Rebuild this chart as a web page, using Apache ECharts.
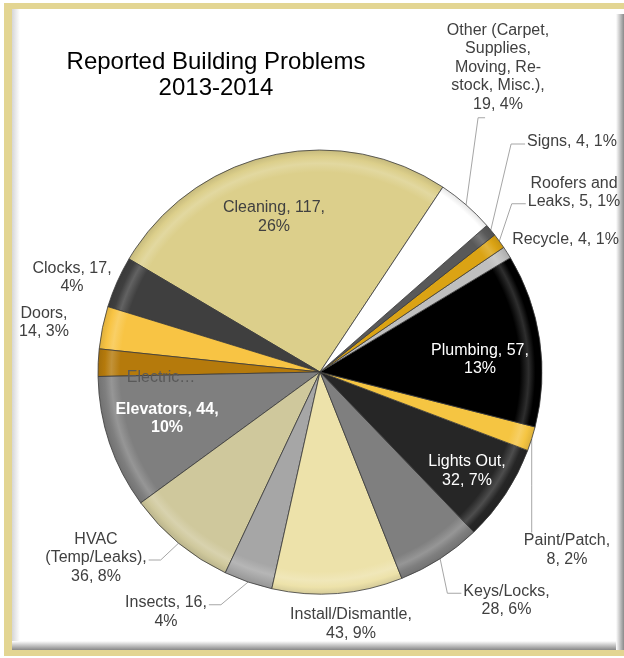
<!DOCTYPE html>
<html><head><meta charset="utf-8">
<script src="https://cdn.jsdelivr.net/npm/echarts@6/dist/echarts.min.js"></script>
<style>html,body{margin:0;padding:0;background:#fff}#c{width:624px;height:658px}</style>
</head><body><div id="c"></div>
<script>
// ---- data ----
const categories = ['Cleaning','Clocks','Doors','Electric','Elevators','HVAC (Temp/Leaks)','Insects','Install/Dismantle','Keys/Locks','Lights Out','Paint/Patch','Plumbing','Recycle','Roofers and Leaks','Signs','Other (Carpet, Supplies, Moving, Re-stock, Misc.)'];
const values = [117,17,14,9,44,36,16,43,28,32,8,57,4,5,4,19];
// label name as wrapped in the picture
const labelNames = ['Cleaning','Clocks','Doors','Electric','Elevators','HVAC\n(Temp/Leaks)','Insects','Install/Dismantle','Keys/Locks','Lights Out','Paint/Patch','Plumbing','Recycle','Roofers and\nLeaks','Signs','Other (Carpet,\nSupplies,\nMoving, Re-\nstock, Misc.)'];
// where the line break falls: 'pct' = before percent, 'val' = before value, 'none', 'trunc'
const labelBreaks = ['pct','pct','val','trunc','pct','val','pct','val','val','val','val','pct','none','none','none','val'];
const titleText = 'Reported Building Problems\n2013-2014';

// ---- style ----
const sliceColors = ['#dccf8b','#3f3f3f','#f8c444','#b57a0c','#7f7f7f','#cfc89c','#a6a6a6','#ede2aa','#7f7f7f','#262626','#f5c542','#000000','#bfbfbf','#dba314','#595959','#ffffff'];
const labelColors = ['#404040','#404040','#404040','#595959','#ffffff','#404040','#404040','#404040','#404040','#ffffff','#404040','#ffffff','#404040','#404040','#404040','#404040'];
// label block centres, leader-line side and the text line the leader meets
const labelPos = [[274,217],[72,277.5],[44,322.5],[161,378],[167,418.5],[96,558],[166,612],[351,624],[506.5,600.5],[467,471],[567,550],[480,359.5],[565.5,240],[574,192.5],[572,142],[498,67.5]];
const leaderSide = [null,null,null,null,null,'right','right',null,'left',null,'top',null,null,'left','left','bottom'];
const leaderLine = [null,null,null,null,null,1,0,null,0,null,null,null,null,1,0,null];

const CX = 320, CY = 372, R = 222;
function mix(c, t, k){
  const p = s => [parseInt(s.substr(1,2),16),parseInt(s.substr(3,2),16),parseInt(s.substr(5,2),16)];
  const a = p(c), b = p(t);
  return 'rgb(' + a.map((v,i)=>Math.round(v+(b[i]-v)*k)).join(',') + ')';
}
function grad(c){
  return {type:'radial', x:CX, y:CY, r:R, global:true, colorStops:[
    {offset:0, color:c},
    {offset:0.9, color:c},
    {offset:0.94, color:mix(c,'#ffffff',0.18)},
    {offset:0.97, color:c},
    {offset:1, color:mix(c,'#000000',0.1)}
  ]};
}
const total = values.reduce((a,b)=>a+b,0);

const data = categories.map((name,i)=>({
  name, value: values[i],
  itemStyle:{color: grad(sliceColors[i])},
  label:{color: labelColors[i], fontWeight: i===4 ? 'bold' : 'normal'},
  labelLine:{show: !!leaderSide[i]}
}));

const chart = echarts.init(document.getElementById('c'));
chart.setOption({
  backgroundColor:'#ffffff',
  animation:false,
  graphic:[
    {type:'rect', z:-10, shape:{x:4,y:3,width:620,height:653}, style:{fill:'#e3d592'}},
    {type:'rect', z:-9, shape:{x:12,y:9,width:612,height:641}, style:{fill:'#ffffff'}},
    {type:'rect', z:-8, shape:{x:12,y:9,width:8,height:641}, style:{fill:{type:'linear',x:0,y:0,x2:1,y2:0,colorStops:[{offset:0,color:'#d6d6d6'},{offset:1,color:'#ffffff'}]}}},
    {type:'rect', z:-8, shape:{x:12,y:641,width:612,height:9}, style:{fill:{type:'linear',x:0,y:0,x2:0,y2:1,colorStops:[{offset:0,color:'#ffffff'},{offset:1,color:'#888888'}]}}},
    {type:'rect', z:-8, shape:{x:616,y:14,width:8,height:636}, style:{fill:{type:'linear',x:0,y:0,x2:1,y2:0,colorStops:[{offset:0,color:'#ffffff'},{offset:1,color:'#8a8a8a'}]}}},
    {type:'text', z:5, x:216, y:75, style:{text:titleText, font:'24px "Liberation Sans", Arial, sans-serif', fill:'#000000', textAlign:'center', textVerticalAlign:'middle', lineHeight:26}}
  ],
  series:[{
    type:'pie',
    center:[CX,CY],
    radius:R,
    startAngle:56.4,
    clockwise:false,
    avoidLabelOverlap:false,
    data,
    itemStyle:{borderColor:'#3a3a3a', borderWidth:0.8},
    label:{
      show:true, position:'outside',
      fontFamily:'"Liberation Sans", Arial, sans-serif', fontSize:16, lineHeight:18.5,
      align:'center',
      formatter:(p)=>{
        const i = p.dataIndex;
        const pct = Math.round(p.value/total*100) + '%';
        const nm = labelNames[i];
        switch(labelBreaks[i]){
          case 'pct': return nm + ', ' + p.value + ',\n' + pct;
          case 'val': return nm + ',\n' + p.value + ', ' + pct;
          case 'trunc': return nm + '\u2026';
          default: return nm + ', ' + p.value + ', ' + pct;
        }
      }
    },
    labelLine:{lineStyle:{color:'#a6a6a6', width:1}, length:10, length2:10},
    labelLayout:(p)=>{
      const i = p.dataIndex;
      const [cx,cy] = labelPos[i];
      const w = p.labelRect.width, h = p.labelRect.height;
      const res = {x:cx, y:cy, align:'center', verticalAlign:'middle'};
      const side = leaderSide[i];
      if (side && p.labelLinePoints){
        const s = p.labelLinePoints[0];
        const top = cy - h/2, bot = cy + h/2, lh = 18.5;
        let e, m;
        if (side==='left' || side==='right'){
          const ey = top + lh/2 + lh*leaderLine[i] + 2;
          const ex = side==='left' ? cx - w/2 - 2 : cx + w/2 + 2;
          e = [ex, ey]; m = [side==='left' ? ex - 14 : ex + 12, ey];
        } else if (side==='top'){
          e = [s[0], top + 1]; m = [s[0], (s[1]+top)/2];
        } else {
          m = [s[0] + 12, bot + 4]; e = [m[0] + 7, bot + 4];
        }
        res.labelLinePoints = [s, m, e];
      }
      return res;
    }
  }]
});
</script></body></html>
